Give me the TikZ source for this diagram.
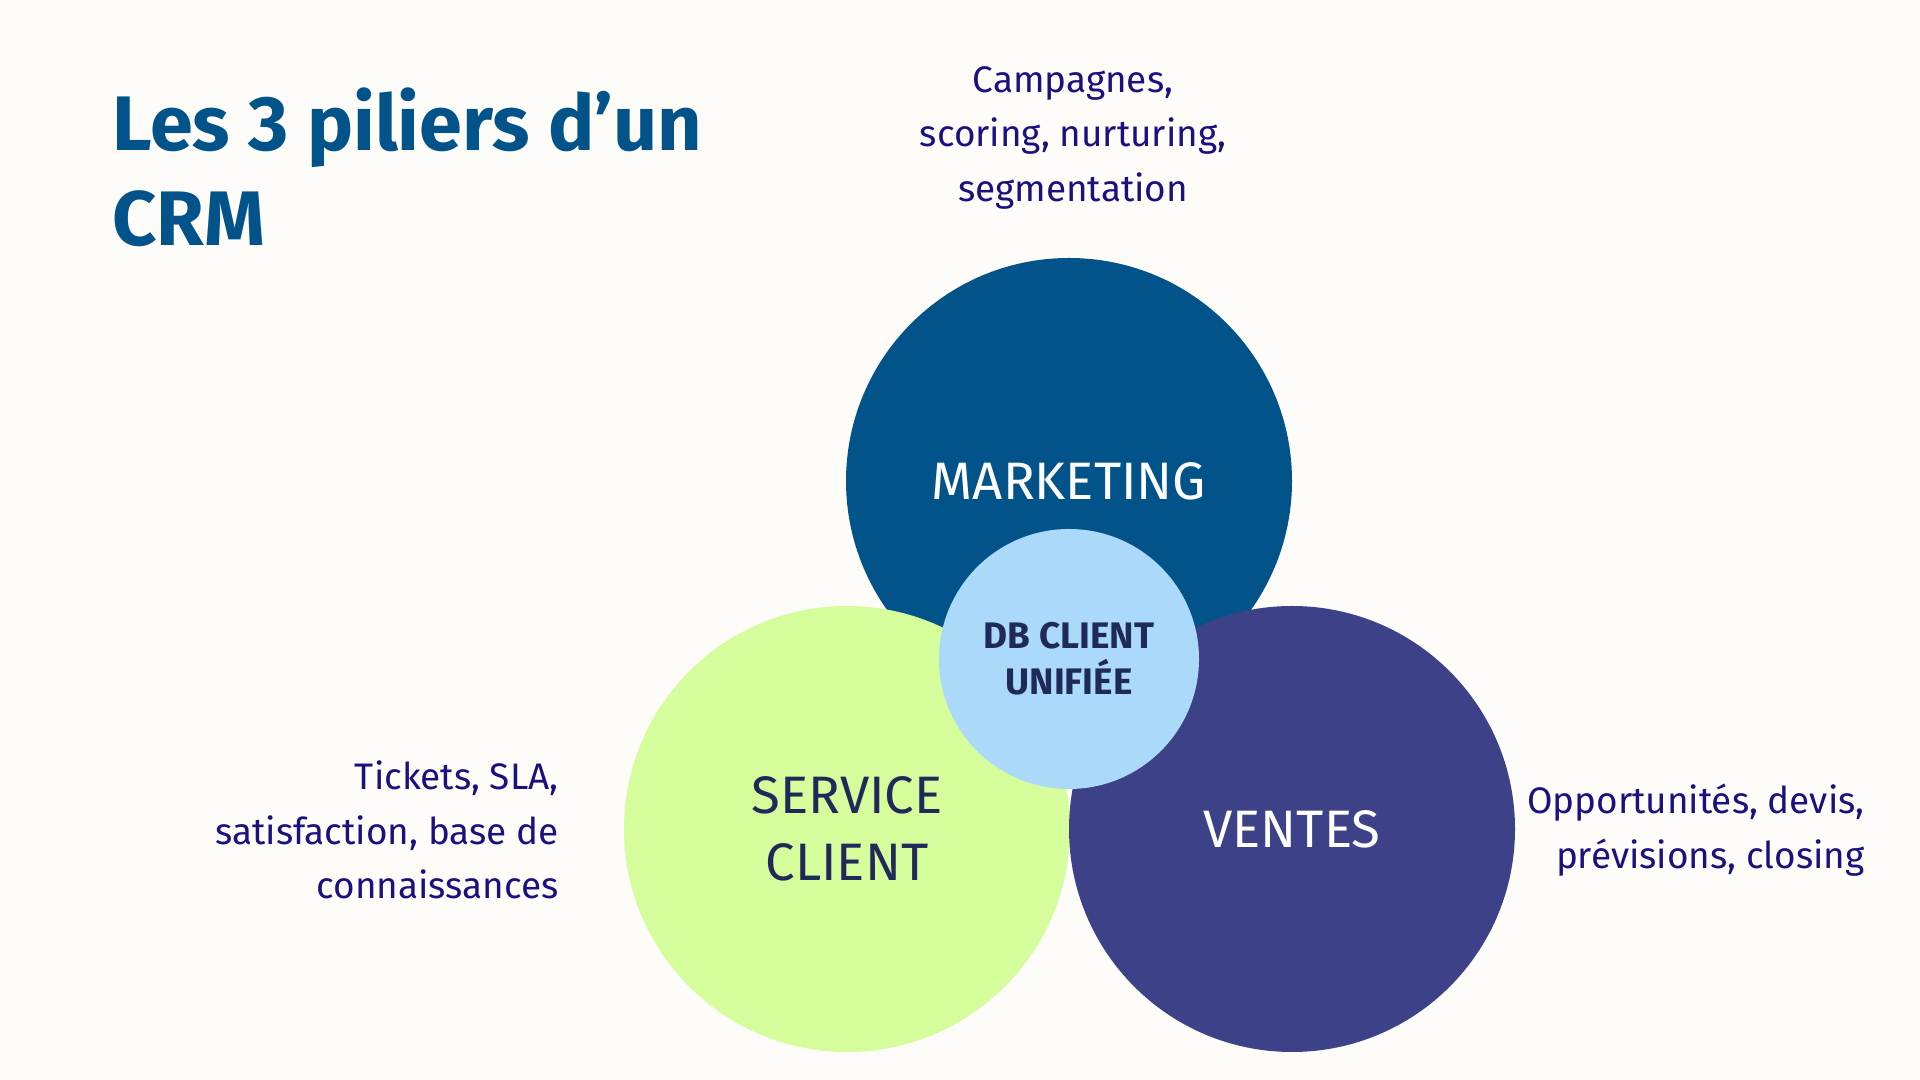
\documentclass[tikz,border=0pt]{standalone}
\usepackage{fontspec}
\setmainfont{Fira Sans}
\usetikzlibrary{positioning}
\definecolor{bgcol}{HTML}{FDFCF8}
\definecolor{mktcol}{HTML}{02538A}
\definecolor{srvcol}{HTML}{D5FD9B}
\definecolor{vtecol}{HTML}{3C4188}
\definecolor{dbcol}{HTML}{AAD9F9}
\definecolor{navy}{HTML}{1F2A5A}
\definecolor{indigo}{HTML}{1A1080}
\begin{document}
\begin{tikzpicture}[
                    pillar/.style={circle, minimum size=4.46cm, inner sep=0, align=center, font=\fontsize{15}{19}\selectfont},
                    hub/.style={circle, fill=dbcol, minimum size=2.6cm, inner sep=0, align=center, text=navy, font=\bfseries\fontsize{10.5}{13}\selectfont},
                    note/.style={text=indigo, font=\fontsize{10.5}{15.5}\selectfont}
                    ]
    % background and bounding box
    \fill[bgcol] (0,0) rectangle (19.2,10.8);
    \useasboundingbox (0,0) rectangle (19.2,10.8);
    
    % title
    \node[anchor=north west, text=mktcol, align=left, font=\bfseries\fontsize{22}{27}\selectfont] (title) at (1.0,10.05) {Les 3 piliers d’un\\CRM};
    
    % pillars
    \node[pillar, fill=mktcol, text=white]  (MKT) at (10.69,5.99) {MARKETING};
    \node[pillar, fill=srvcol, text=navy]   (SRV) at (8.47,2.51)  {SERVICE\\CLIENT};
    \node[pillar, fill=vtecol, text=white]  (VTE) at (12.92,2.51) {VENTES};
    \node[hub] (DB) at (10.69,4.21) {DB CLIENT\\UNIFIÉE};
    
    % descriptions
    \node[note, align=center] (MKTnote) at (10.73,9.42) {Campagnes,\\scoring, nurturing,\\segmentation};
    \node[note, align=right, anchor=east] (SRVnote) at (5.71,2.50) {Tickets, SLA,\\satisfaction, base de\\connaissances};
    \node[note, align=right, anchor=east] (VTEnote) at (18.77,2.50) {Opportunités, devis,\\prévisions, closing};
    
\end{tikzpicture}
\end{document}
